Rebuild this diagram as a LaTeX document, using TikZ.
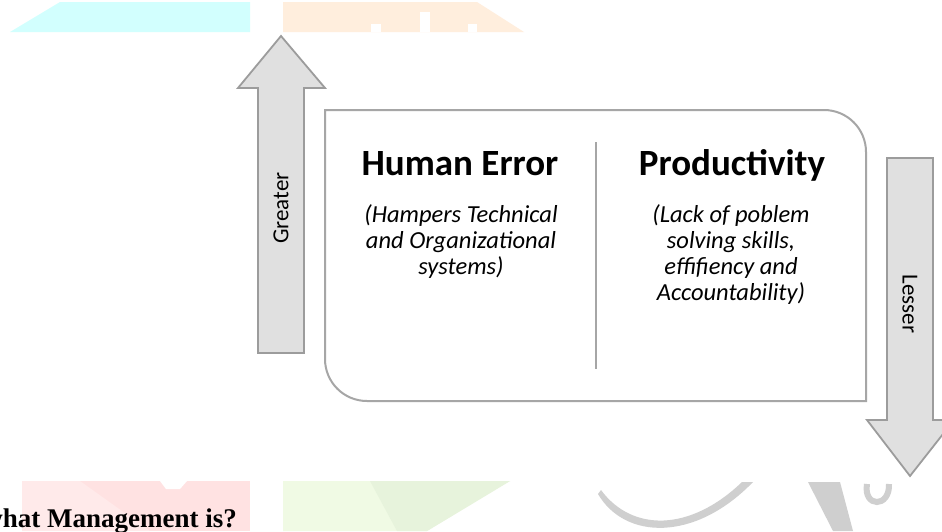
\documentclass[tikz,border=0pt]{standalone}
\usepackage{fontspec}
\setmainfont{Carlito}
\newfontfamily\timesfont{Liberation Serif}
\definecolor{arrowfill}{HTML}{E0E0E0}
\definecolor{arrowline}{HTML}{9C9C9C}
\definecolor{boxline}{HTML}{A6A6A6}
\definecolor{wmcyan}{HTML}{D2FFFE}
\definecolor{wmorange}{HTML}{FFEEDD}
\definecolor{wmpink}{HTML}{FFE2E2}
\definecolor{wmpinklt}{HTML}{FFEAEA}
\definecolor{wmgreenA}{HTML}{F0FAE4}
\definecolor{wmgreenB}{HTML}{E7F3DC}
\definecolor{wmgray}{HTML}{CFCFCF}
\begin{document}
\begin{tikzpicture}[x=1pt,y=-1pt,
  bigarrow/.style={draw=arrowline, fill=arrowfill, line width=1.8pt, line join=miter},
  panel/.style={draw=boxline, line width=2pt},
  divider/.style={draw=boxline, line width=2pt},
  title/.style={font=\bfseries\fontsize{37}{41}\selectfont, inner sep=0pt, anchor=base},
  subtext/.style={font=\itshape\fontsize{24.5}{26}\selectfont, inner sep=0pt, anchor=base},
  arrowlabel/.style={font=\fontsize{23}{26}\selectfont, inner sep=0pt},
  question/.style={font=\timesfont\bfseries\fontsize{27}{32}\selectfont, inner sep=0pt, anchor=base east}]
\useasboundingbox (0,0) rectangle (942,531);
\clip (0,0) rectangle (942,531);
\fill[white] (0,0) rectangle (942,531);
% faint watermark fragments
\fill[wmcyan] (10,32) -- (60,2) -- (250,2) -- (250,32) -- cycle;
\fill[wmorange] (283,2) -- (477,2) -- (524,32) -- (283,32) -- cycle;
\fill[white] (371,24) rectangle (381,32);
\fill[white] (420,12) rectangle (430,32);
\fill[white] (468,24) rectangle (477,32);
\fill[wmpink] (22,481) rectangle (250,531);
\fill[wmpinklt] (22,481) -- (80,481) -- (150,531) -- (22,531) -- cycle;
\fill[white] (160,481) -- (187,481) -- (180,489) -- (166,489) -- cycle;
\fill[wmgreenA] (283,481) -- (510,481) -- (427,531) -- (283,531) -- cycle;
\fill[wmgreenB] (370,481) -- (510,481) -- (427,531) -- (397,531) -- cycle;
\fill[wmgray] (598,494) .. controls (625,540) and (695,542) .. (753,482)
  -- (742,482) .. controls (690,532) and (632,532) .. (601,490) -- cycle;
\fill[wmgray] (808,482) -- (840,482) -- (853,531) -- (833,531) -- cycle;
\draw[wmgray, line width=6pt] (867,484) .. controls (863,508) and (890,508) .. (889,484);
% arrows
\draw[bigarrow] (258,353) -- (258,88) -- (238,88) -- (281,36) -- (325,88) -- (304,88) -- (304,353) -- cycle;
\draw[bigarrow] (887,158) -- (933,158) -- (933,420) -- (954,420) -- (910,476) -- (867,420) -- (887,420) -- cycle;
\node[arrowlabel, rotate=90] (greater) at (281,208) {Greater};
\node[arrowlabel, rotate=-90] (lesser) at (910,304) {Lesser};
% panel
\draw[panel] (325,110) -- (824,110) arc[start angle=-90, end angle=0, radius=42]
  -- (866,401) -- (367,401) arc[start angle=90, end angle=180, radius=42] -- cycle;
\coordinate (dtop) at (596,142);
\coordinate (dbot) at (596,369);
\draw[divider] (dtop) -- (dbot);
\node[title] (he) at (460,175) {Human Error};
\node[title] (pr) at (732,175) {Productivity};
\node[subtext] (hes1) at (461,222) {(Hampers Technical};
\node[subtext] (hes2) at (461,248) {and Organizational};
\node[subtext] (hes3) at (461,274) {systems)};
\node[subtext] (prs1) at (731,222) {(Lack of poblem};
\node[subtext] (prs2) at (731,248) {solving skills,};
\node[subtext] (prs3) at (731,274) {effifiency and};
\node[subtext] (prs4) at (731,300) {Accountability)};
\node[question] (q) at (237,527) {what Management is?};
\end{tikzpicture}
\end{document}
